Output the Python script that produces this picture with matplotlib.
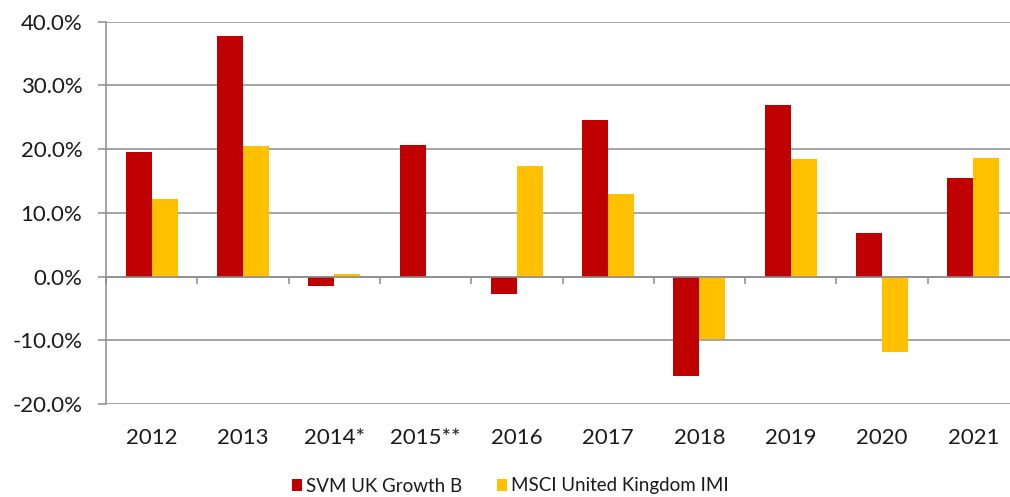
import numpy as np
import matplotlib.pyplot as plt
from matplotlib.ticker import FuncFormatter

plt.rcParams['font.family'] = ['Lato', 'DejaVu Sans']

years = ['2012', '2013', '2014*', '2015**', '2016', '2017', '2018', '2019', '2020', '2021']
svm = [19.5, 37.7, -1.5, 20.6, -2.8, 24.6, -15.6, 27.0, 6.8, 15.5]
msci = [12.2, 20.5, 0.4, 0.0, 17.4, 13.0, -9.8, 18.4, -11.8, 18.6]
series_names = ['SVM UK Growth B', 'MSCI United Kingdom IMI']

red = '#C00000'
gold = '#FFC000'
grid_col = '#8C8C8C'

fig = plt.figure(figsize=(10.10, 4.97), dpi=100)
ax = fig.add_axes([106/1010, 1 - 404/497, 913/1010, (404 - 21.7)/497])

x = np.arange(len(years))
w = 0.285
ax.bar(x - w/2, svm, w, color=red, label=series_names[0], zorder=3)
ax.bar(x + w/2, msci, w, color=gold, label=series_names[1], zorder=3)

ax.set_xlim(-0.5, len(years) - 0.5)
ax.set_ylim(-20, 40)
ax.set_yticks(np.arange(-20, 41, 10))
ax.yaxis.set_major_formatter(FuncFormatter(lambda v, p: f'{v:.1f}%'))
ax.yaxis.grid(True, color=grid_col, lw=1.1, zorder=1)
ax.tick_params(axis='y', length=6, width=1.1, color=grid_col, pad=11,
               labelsize=16, labelcolor='#1a1a1a')

# category labels at the bottom
ax.set_xticks(x)
ax.set_xticklabels(years)
ax.tick_params(axis='x', length=0, pad=17, labelsize=16, labelcolor='#1a1a1a')

for s in ['top', 'right', 'bottom']:
    ax.spines[s].set_visible(False)
ax.spines['left'].set_color(grid_col)
ax.spines['left'].set_linewidth(1.1)

# category axis crossing at zero with boundary ticks
ax.axhline(0, color=grid_col, lw=1.1, zorder=4)
sec = ax.secondary_xaxis(20/60)
sec.set_xticks(np.arange(len(years) + 1) - 0.5)
sec.set_xticklabels([])
sec.tick_params(length=5, width=1.1, color=grid_col, direction='out')
sec.spines['bottom'].set_visible(False)

fig.legend(loc='center', bbox_to_anchor=(510/1010, 1 - 486/497), ncol=2,
           frameon=False, fontsize=13.5, handlelength=0.55, handleheight=0.55,
           handletextpad=0.2, columnspacing=1.85, labelcolor='#1a1a1a')

fig.savefig('out.png', dpi=100)
